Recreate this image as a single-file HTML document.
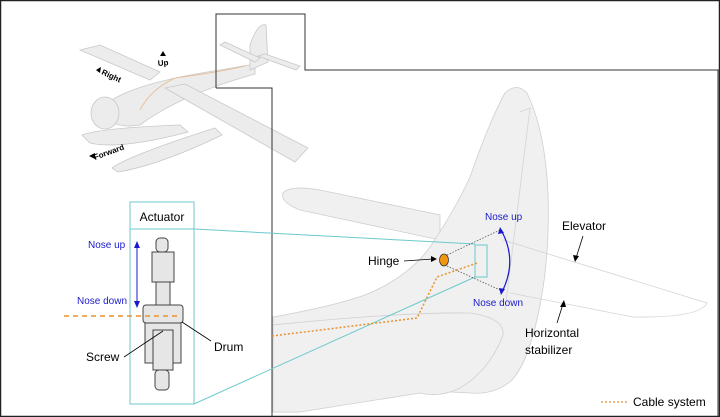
<!DOCTYPE html>
<html><head><meta charset="utf-8"><style>
html,body{margin:0;padding:0;background:#fff}
svg{display:block}
text{font-family:"Liberation Sans",sans-serif}
</style></head><body>
<svg width="720" height="417" viewBox="0 0 720 417" xmlns="http://www.w3.org/2000/svg">
<rect x="0.5" y="0.5" width="719" height="416" fill="#fff" stroke="#222" stroke-width="1.5"/>
<!-- small airplane -->
<g fill="#ececec" stroke="#c8c8c8" stroke-width="0.8">
<polygon points="80,50 100,45 160,72 150,80"/>
<path d="M100,110 Q120,85 220,70 L255,64 L255,74 Q180,95 140,125 Q110,130 100,110 Z"/>
<polygon points="165,88 185,84 308,148 295,162"/>
<path d="M250,45 Q258,22 266,25 L268,62 L250,70 Z"/>
<polygon points="220,45 225,42 260,58 255,62"/>
<polygon points="258,56 265,54 300,66 296,70"/>
<ellipse cx="105" cy="113" rx="14" ry="16"/>
<path d="M82,135 Q100,128 180,125 L188,132 Q120,150 90,143 Z"/>
<path d="M112,168 Q130,155 215,128 L222,135 Q160,165 118,172 Z"/>
</g>
<path d="M140,110 Q150,90 175,78 Q220,72 245,66" fill="none" stroke="#e8b88a" stroke-width="0.8"/>
<polygon points="163,51 160,56 166,56" fill="#000"/>
<text x="158" y="66" font-size="8" font-weight="bold" transform="rotate(-5 158 66)">Up</text>
<polygon points="96,70 101,67 100,73" fill="#000"/>
<text x="101" y="74" font-size="8" font-weight="bold" transform="rotate(25 101 74)">Right</text>
<polygon points="89,156 95,153 95,159" fill="#000"/>
<text x="95" y="160" font-size="8" font-weight="bold" transform="rotate(-20 95 160)">Forward</text>
<!-- inset frame -->
<polyline points="216,88 216,14 305,14 305,70 720,70" fill="none" stroke="#333" stroke-width="1"/>
<polyline points="216,88 272,88 272,417" fill="none" stroke="#333" stroke-width="1"/>
<!-- right panel shapes -->
<g fill="#f0f0f0" stroke="#cfcfcf" stroke-width="0.8">
<path d="M283,193 Q290,185 320,190 L440,215 L440,240 L300,210 Q280,202 283,193 Z"/>
<path d="M273,317 Q340,305 370,293 Q410,275 430,247 Q455,210 470,177 Q490,120 505,93 Q517,82 527,93 Q545,130 548,193 Q550,250 541,300 Q530,360 512,380 Q495,395 470,393 L413,390 L300,412 L273,412 Z"/>
<path d="M273,325 Q400,312 470,313 Q505,318 503,335 Q490,370 460,388 Q440,398 420,393 L300,412 L273,412 Z"/>
</g>
<g fill="none" stroke="#d4d4d4" stroke-width="0.8">
<path d="M503,240 L707,303 Q700,318 633,317 L510,293"/>
<path d="M520,112 L530,108 L505,310"/>
</g>
<!-- cyan connectors -->
<g fill="none" stroke="#6cc9cc" stroke-width="1">
<rect x="130" y="202" width="64" height="27"/>
<rect x="130" y="229" width="64" height="175"/>
<line x1="194" y1="229" x2="475" y2="244"/>
<line x1="194" y1="404" x2="475" y2="277"/>
<rect x="475" y="245" width="12" height="32"/>
</g>
<text x="162" y="221" font-size="12" text-anchor="middle">Actuator</text>
<!-- actuator drawing -->
<g fill="#e6e6e6" stroke="#444" stroke-width="1">
<rect x="156" y="238" width="12" height="14" rx="4"/>
<rect x="152" y="252" width="22" height="30"/>
<rect x="156" y="282" width="14" height="28"/>
<rect x="143" y="305" width="40" height="18" rx="3"/>
<rect x="145" y="323" width="36" height="40"/>
<rect x="153" y="330" width="20" height="40"/>
<rect x="155" y="370" width="14" height="20" rx="4"/>
</g>
<line x1="64" y1="316" x2="180" y2="316" stroke="#e8922a" stroke-width="1.5" stroke-dasharray="5,4"/>
<line x1="137" y1="245" x2="137" y2="304" stroke="#1a1acc" stroke-width="1"/>
<polygon points="137,241 134,248 140,248" fill="#1a1acc"/>
<polygon points="137,308 134,301 140,301" fill="#1a1acc"/>
<text x="88" y="248" font-size="10" fill="#1a1acc">Nose up</text>
<text x="77" y="304" font-size="10" fill="#1a1acc">Nose down</text>
<text x="86" y="361" font-size="12">Screw</text>
<line x1="124" y1="357" x2="163" y2="331" stroke="#000" stroke-width="0.8"/>
<text x="214" y="351" font-size="12">Drum</text>
<line x1="211" y1="341" x2="182" y2="322" stroke="#000" stroke-width="0.8"/>
<!-- cable -->
<polyline points="272,336 417,318 437,277 477,263" fill="none" stroke="#e8922a" stroke-width="1.5" stroke-dasharray="2,2"/>
<ellipse cx="444" cy="260" rx="4.5" ry="6" fill="#f0960f" stroke="#333" stroke-width="0.8"/>
<text x="368" y="265" font-size="12">Hinge</text>
<line x1="404" y1="261" x2="433" y2="259" stroke="#000" stroke-width="0.8"/>
<polygon points="437,259 431,256 431,262" fill="#000"/>
<g stroke="#555" stroke-width="0.8" stroke-dasharray="1.5,1.5">
<line x1="447" y1="255" x2="500" y2="230"/>
<line x1="447" y1="266" x2="500" y2="290"/>
</g>
<path d="M501,230 Q518,260 502,292" fill="none" stroke="#1a1acc" stroke-width="1.2"/>
<polygon points="500,227 498,234 504,233" fill="#1a1acc"/>
<polygon points="501,295 499,288 505,289" fill="#1a1acc"/>
<text x="485" y="220" font-size="10" fill="#1a1acc">Nose up</text>
<text x="473" y="306" font-size="10" fill="#1a1acc">Nose down</text>
<text x="562" y="230" font-size="12">Elevator</text>
<line x1="583" y1="236" x2="576" y2="258" stroke="#000" stroke-width="0.8"/>
<polygon points="575,262 573,255 579,256" fill="#000"/>
<text x="525" y="337" font-size="12">Horizontal</text>
<text x="525" y="354" font-size="12">stabilizer</text>
<line x1="557" y1="323" x2="563" y2="304" stroke="#000" stroke-width="0.8"/>
<polygon points="564,300 560,307 566,307" fill="#000"/>
<line x1="601" y1="402" x2="628" y2="402" stroke="#e8922a" stroke-width="1.2" stroke-dasharray="2,2"/>
<text x="633" y="406" font-size="12">Cable system</text>
<line x1="718" y1="70" x2="718" y2="416" stroke="#333" stroke-width="1"/>
</svg>
</body></html>
